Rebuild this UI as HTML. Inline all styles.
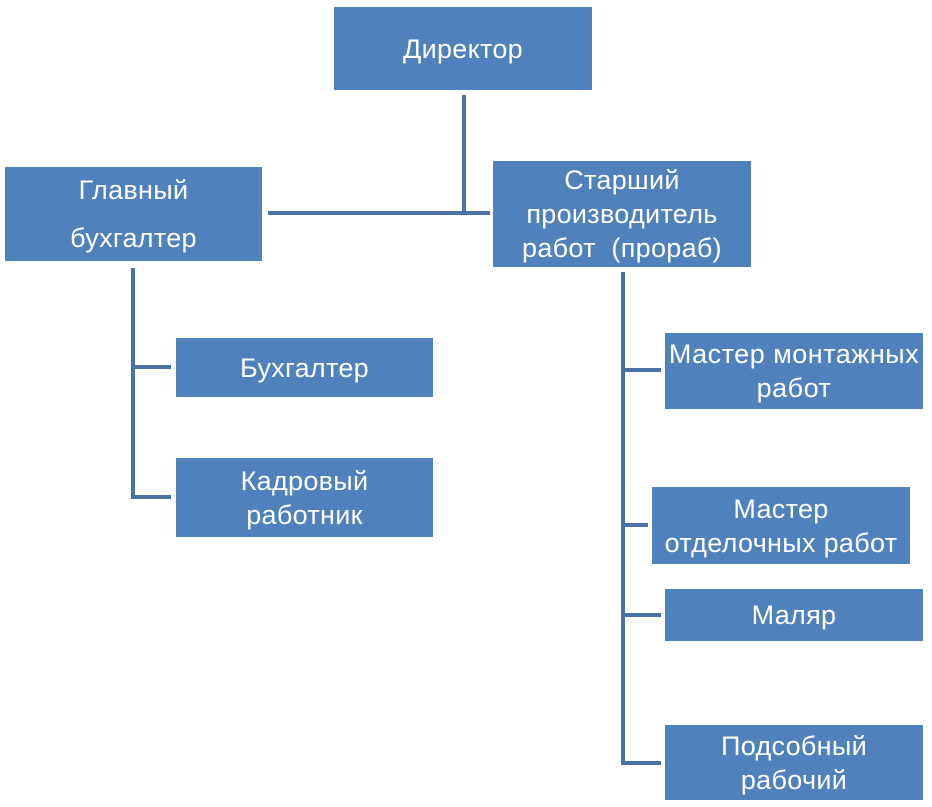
<!DOCTYPE html>
<html><head><meta charset="utf-8"><style>
body{margin:0;width:932px;height:807px;background:#fff;position:relative;overflow:hidden;font-family:"Liberation Sans",sans-serif}
.b{position:absolute;background:#4f81bd;color:#fff;display:flex;align-items:center;justify-content:center;text-align:center;font-size:27px;line-height:34px;letter-spacing:0.3px;white-space:nowrap}
.l{position:absolute;background:#4a71a4}
</style></head><body>
<div class="b" style="left:334px;top:7px;width:258px;height:83px">Директор</div>
<div class="b" style="left:5px;top:167px;width:257px;height:94px;line-height:48px">Главный<br>бухгалтер</div>
<div class="b" style="left:493px;top:161px;width:258px;height:106px">Старший<br>производитель<br>работ&nbsp; (прораб)</div>
<div class="b" style="left:176px;top:338px;width:257px;height:59px">Бухгалтер</div>
<div class="b" style="left:176px;top:458px;width:257px;height:79px">Кадровый<br>работник</div>
<div class="b" style="left:665px;top:333px;width:258px;height:76px;letter-spacing:0.5px">Мастер монтажных<br>работ</div>
<div class="b" style="left:652px;top:487px;width:258px;height:77px">Мастер<br>отделочных работ</div>
<div class="b" style="left:665px;top:589px;width:258px;height:52px">Маляр</div>
<div class="b" style="left:665px;top:725px;width:258px;height:75px">Подсобный<br>рабочий</div>
<div class="l" style="left:462px;top:95px;width:4px;height:119px"></div>
<div class="l" style="left:268px;top:211px;width:222px;height:4px"></div>
<div class="l" style="left:131px;top:268px;width:4px;height:231px"></div>
<div class="l" style="left:131px;top:365px;width:40px;height:4px"></div>
<div class="l" style="left:131px;top:495px;width:40px;height:4px"></div>
<div class="l" style="left:621px;top:272px;width:4px;height:493px"></div>
<div class="l" style="left:621px;top:368px;width:40px;height:4px"></div>
<div class="l" style="left:621px;top:523px;width:27px;height:4px"></div>
<div class="l" style="left:621px;top:613px;width:40px;height:4px"></div>
<div class="l" style="left:621px;top:761px;width:40px;height:4px"></div>
</body></html>
